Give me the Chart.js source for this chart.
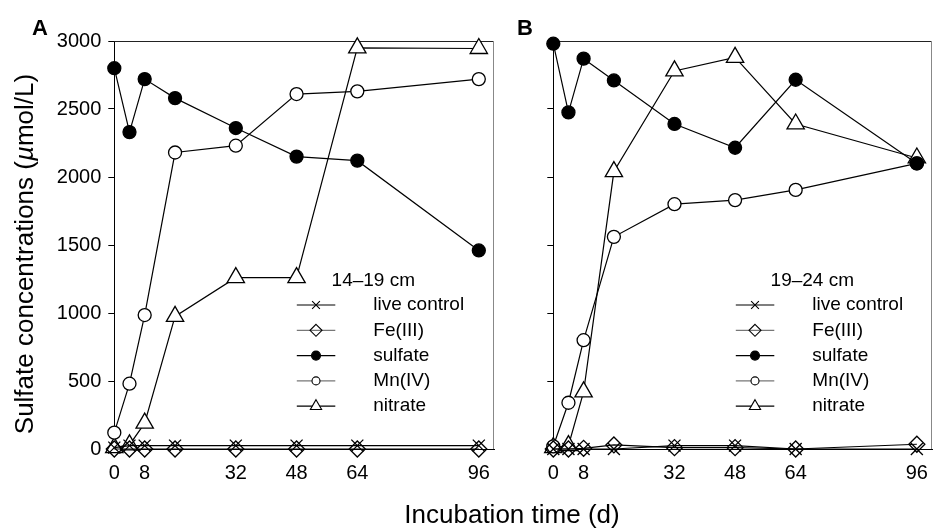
<!DOCTYPE html>
<html lang="en">
  <head>
    <meta charset="UTF-8" />
    <title>Sulfate concentrations</title>
    <script src="https://cdn.jsdelivr.net/npm/chart.js"></script>
    <style>
      body {
        margin: 0;
        background: #fff;
        width: 933px;
        height: 528px;
        position: relative;
        overflow: hidden;
        font-family: "Liberation Sans", Arial, Helvetica, sans-serif;
        color: #000;
      }
      .panel { position: absolute; top: 0; height: 528px; }
      #panelA { left: 0; width: 500px; }
      #panelB { left: 500px; width: 433px; }
      .letter { position: absolute; top: 17px; font-size: 22px; line-height: 22px; font-weight: bold; }
      #xTitle {
        position: absolute; left: 312px; width: 400px; top: 501px;
        font-size: 26px; line-height: 26px; text-align: center; white-space: nowrap;
      }
      #yTitle {
        position: absolute; left: -176px; top: 239px; width: 400px; height: 30px;
        font-size: 26px; line-height: 30px; text-align: center; white-space: nowrap;
        transform: rotate(-90deg);
      }
    </style>
  </head>
  <body>
    <div class="panel" id="panelA"><canvas id="chartA"></canvas></div>
    <div class="panel" id="panelB"><canvas id="chartB"></canvas></div>
    <div class="letter" style="left: 32px">A</div>
    <div class="letter" style="left: 517px">B</div>
    <div id="yTitle">Sulfate concentrations (<i>µ</i>mol/L)</div>
    <div id="xTitle">Incubation time (d)</div>
    <script>
      // incubation days and x tick labels
      const days = [0, 4, 8, 16, 32, 48, 64, 96];
      const xTickValues = [0, 8, 32, 48, 64, 96];
      const seriesNames = ["live control", "Fe(III)", "sulfate", "Mn(IV)", "nitrate"];
      const depthA = "14–19 cm";
      const depthB = "19–24 cm";

      // panel A, 14-19 cm
      const liveA = [10, 25, 25, 25, 25, 25, 25, 25];
      const feA = [0, 0, 0, 0, 0, 0, 0, 0];
      const sulfateA = [2800, 2330, 2720, 2580, 2360, 2150, 2120, 1460];
      const mnA = [120, 480, 985, 2180, 2230, 2610, 2630, 2720];
      const nitrateA = [10, 30, 190, 975, 1260, 1260, 2950, 2945];

      // panel B, 19-24 cm
      const liveB = [0, 0, 0, 0, 25, 25, 0, 0];
      const feB = [0, 0, 5, 30, 10, 10, 0, 35];
      const sulfateB = [2980, 2475, 2870, 2710, 2390, 2215, 2715, 2100];
      const mnB = [20, 340, 800, 1560, 1800, 1830, 1905, 2100];
      const nitrateB = [10, 25, 420, 2040, 2780, 2880, 2390, 2140];

      const FONT = '"Liberation Sans", Arial, Helvetica, sans-serif';
      Chart.defaults.font.family = FONT;
      Chart.defaults.color = "#000";

      const markers = [
        { style: "crossRot", r: 8.5, fill: "rgba(0,0,0,0)", lr: 5.5, line: "#000" },
        { style: "rectRot", r: 8, fill: "rgba(0,0,0,0)", lr: 6, line: "#777" },
        { style: "circle", r: 6.5, fill: "#000", lr: 4.5, line: "#000" },
        { style: "circle", r: 6.5, fill: "#fff", lr: 4, line: "#777" },
        { style: "triangle", r: 10, fill: "#fff", lr: 6.5, line: "#000" },
      ];

      function makeDatasets(values) {
        return values.map((vals, i) => ({
          label: seriesNames[i],
          data: days.map((d, j) => ({ x: d, y: vals[j] })),
          borderColor: "#000",
          borderWidth: 1.2,
          pointStyle: markers[i].style,
          pointRadius: markers[i].r,
          pointBackgroundColor: markers[i].fill,
          pointBorderColor: "#000",
          pointBorderWidth: 1.3,
          tension: 0,
          clip: false,
        }));
      }

      function drawMarker(ctx, style, x, y, r, fill) {
        ctx.beginPath();
        if (style === "circle") {
          ctx.arc(x, y, r, 0, Math.PI * 2);
        } else if (style === "triangle") {
          const s = r * Math.sin(Math.PI / 3);
          ctx.moveTo(x, y - r);
          ctx.lineTo(x + s, y + r / 2);
          ctx.lineTo(x - s, y + r / 2);
          ctx.closePath();
        } else if (style === "rectRot") {
          ctx.moveTo(x, y - r);
          ctx.lineTo(x + r, y);
          ctx.lineTo(x, y + r);
          ctx.lineTo(x - r, y);
          ctx.closePath();
        } else {
          const a = r * Math.SQRT1_2;
          ctx.moveTo(x - a, y - a);
          ctx.lineTo(x + a, y + a);
          ctx.moveTo(x - a, y + a);
          ctx.lineTo(x + a, y - a);
        }
        if (style !== "crossRot") {
          ctx.fillStyle = fill;
          ctx.fill();
        }
        ctx.strokeStyle = "#000";
        ctx.lineWidth = 1.1;
        ctx.stroke();
      }

      // box lines on top/right and the depth legend inside the plot
      const panelDecor = {
        id: "panelDecor",
        beforeDatasetsDraw(chart) {
          const { ctx, chartArea: a } = chart;
          ctx.save();
          ctx.lineWidth = 1;
          ctx.strokeStyle = "#222";
          ctx.beginPath();
          ctx.moveTo(a.left, a.top + 0.5);
          ctx.lineTo(a.right, a.top + 0.5);
          ctx.stroke();
          ctx.strokeStyle = "#888";
          ctx.beginPath();
          ctx.moveTo(a.right - 0.5, a.top);
          ctx.lineTo(a.right - 0.5, a.bottom);
          ctx.stroke();
          ctx.restore();
        },
        afterDraw(chart, args, opts) {
          const { ctx, chartArea: a } = chart;
          const textX = a.left + 259;
          ctx.save();
          ctx.font = "19px " + FONT;
          ctx.fillStyle = "#000";
          ctx.textBaseline = "middle";
          ctx.textAlign = "center";
          ctx.fillText(opts.depth, textX, a.top + 240);
          ctx.textAlign = "left";
          chart.data.datasets.forEach((ds, i) => {
            const y = a.top + 264 + i * 25.3;
            const m = markers[i];
            ctx.strokeStyle = m.line;
            ctx.lineWidth = 1.2;
            ctx.beginPath();
            ctx.moveTo(a.left + 182.5, y);
            ctx.lineTo(a.left + 221, y);
            ctx.stroke();
            drawMarker(ctx, m.style, a.left + 201.7, y, m.lr, m.fill);
            ctx.fillStyle = "#000";
            ctx.fillText(ds.label, textX, y);
          });
          ctx.restore();
        },
      };

      function panelConfig(values, depth, showYLabels, yAxisWidth, rightPad) {
        return {
          type: "line",
          data: { datasets: makeDatasets(values) },
          options: {
            responsive: true,
            maintainAspectRatio: false,
            animation: false,
            layout: {
              autoPadding: false,
              padding: { top: 41, right: rightPad, left: 0, bottom: 0 },
            },
            plugins: {
              legend: { display: false },
              tooltip: { enabled: false },
              panelDecor: { depth: depth },
            },
            scales: {
              x: {
                type: "linear",
                min: 0,
                max: 100,
                afterBuildTicks: (s) => {
                  s.ticks = xTickValues.map((v) => ({ value: v }));
                },
                afterFit: (s) => {
                  s.height = 79;
                  s.paddingLeft = 0;
                  s.paddingRight = 0;
                },
                grid: { display: false },
                border: { color: "#000", width: 1 },
                ticks: {
                  font: { size: 20 },
                  color: "#000",
                  padding: 4,
                  maxRotation: 0,
                  autoSkip: false,
                },
              },
              y: {
                min: 0,
                max: 3000,
                afterFit: (s) => {
                  s.width = yAxisWidth;
                },
                grid: { drawOnChartArea: false, tickLength: 6, color: "#000" },
                border: { color: "#000", width: 1 },
                ticks: {
                  stepSize: 500,
                  padding: 7,
                  font: { size: 20 },
                  color: "#000",
                  callback: (v) => (showYLabels ? String(v) : ""),
                },
              },
            },
          },
          plugins: [panelDecor],
        };
      }

      new Chart(
        document.getElementById("chartA"),
        panelConfig([liveA, feA, sulfateA, mnA, nitrateA], depthA, true, 114.3, 6)
      );
      new Chart(
        document.getElementById("chartB"),
        panelConfig([liveB, feB, sulfateB, mnB, nitrateB], depthB, false, 53.3, 1)
      );
    </script>
  </body>
</html>
